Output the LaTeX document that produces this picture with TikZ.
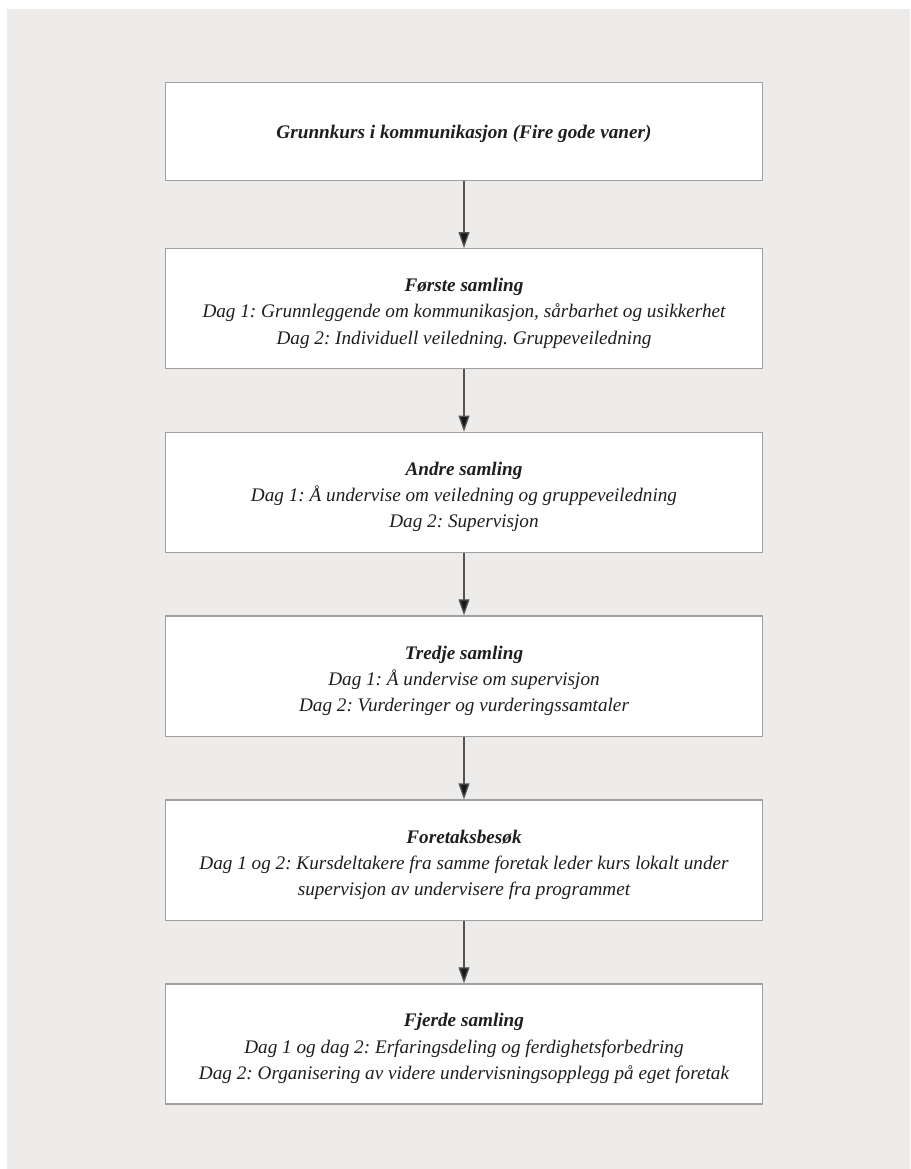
\documentclass[tikz,border=0pt]{standalone}
\usepackage{fontspec}
\setmainfont{Liberation Serif}
\usetikzlibrary{arrows.meta}
\definecolor{bg}{HTML}{EDECEA}
\definecolor{boxline}{HTML}{A0A0A0}
\definecolor{txt}{HTML}{1E1E1E}
\definecolor{arr}{HTML}{555555}
\tikzset{
  stepbox/.style={draw=boxline, line width=1.4pt, fill=white, minimum width=597pt, inner sep=0pt},
  steptext/.style={align=center, text=txt, inner sep=0pt,
    font=\fontsize{19.2}{26.3}\selectfont\itshape},
  flow/.style={draw=arr, line width=1.3pt, -{Triangle[length=16pt,width=11pt,fill=black!90]}}
}
\newcommand{\hd}[1]{{\bfseries #1}}
\begin{document}
\frenchspacing
\begin{tikzpicture}[x=1pt,y=-1pt]
\useasboundingbox (0,0) rectangle (910,1169);
\fill[bg] (7,9) rectangle (910,1169);
\node[stepbox, minimum height=97.6pt] (b1) at (464,131.5) {};
\node[stepbox, minimum height=120pt] (b2) at (464,308.7) {};
\node[stepbox, minimum height=120.4pt] (b3) at (464,492.5) {};
\node[stepbox, minimum height=120.7pt] (b4) at (464,676.3) {};
\node[stepbox, minimum height=120.3pt] (b5) at (464,860.2) {};
\node[stepbox, minimum height=120pt] (b6) at (464,1044) {};
\node[steptext] (t1) at ([yshift=-2pt]b1.center) {\hd{Grunnkurs i kommunikasjon (Fire gode vaner)}};
\node[steptext] (t2) at ([yshift=-4.5pt]b2.center) {\hd{Første samling}\\Dag 1: Grunnleggende om kommunikasjon, sårbarhet og usikkerhet\\Dag 2: Individuell veiledning. Gruppeveiledning};
\node[steptext] (t3) at ([yshift=-4.5pt]b3.center) {\hd{Andre samling}\\Dag 1: Å undervise om veiledning og gruppeveiledning\\Dag 2: Supervisjon};
\node[steptext] (t4) at ([yshift=-4.5pt]b4.center) {\hd{Tredje samling}\\Dag 1: Å undervise om supervisjon\\Dag 2: Vurderinger og vurderingssamtaler};
\node[steptext] (t5) at ([yshift=-4.5pt]b5.center) {\hd{Foretaksbesøk}\\Dag 1 og 2: Kursdeltakere fra samme foretak leder kurs lokalt under\\supervisjon av undervisere fra programmet};
\node[steptext] (t6) at ([yshift=-4.5pt]b6.center) {\hd{Fjerde samling}\\Dag 1 og dag 2: Erfaringsdeling og ferdighetsforbedring\\Dag 2: Organisering av videre undervisningsopplegg på eget foretak};
\draw[flow] (b1) -- (b2);
\draw[flow] (b2) -- (b3);
\draw[flow] (b3) -- (b4);
\draw[flow] (b4) -- (b5);
\draw[flow] (b5) -- (b6);
\end{tikzpicture}
\end{document}
